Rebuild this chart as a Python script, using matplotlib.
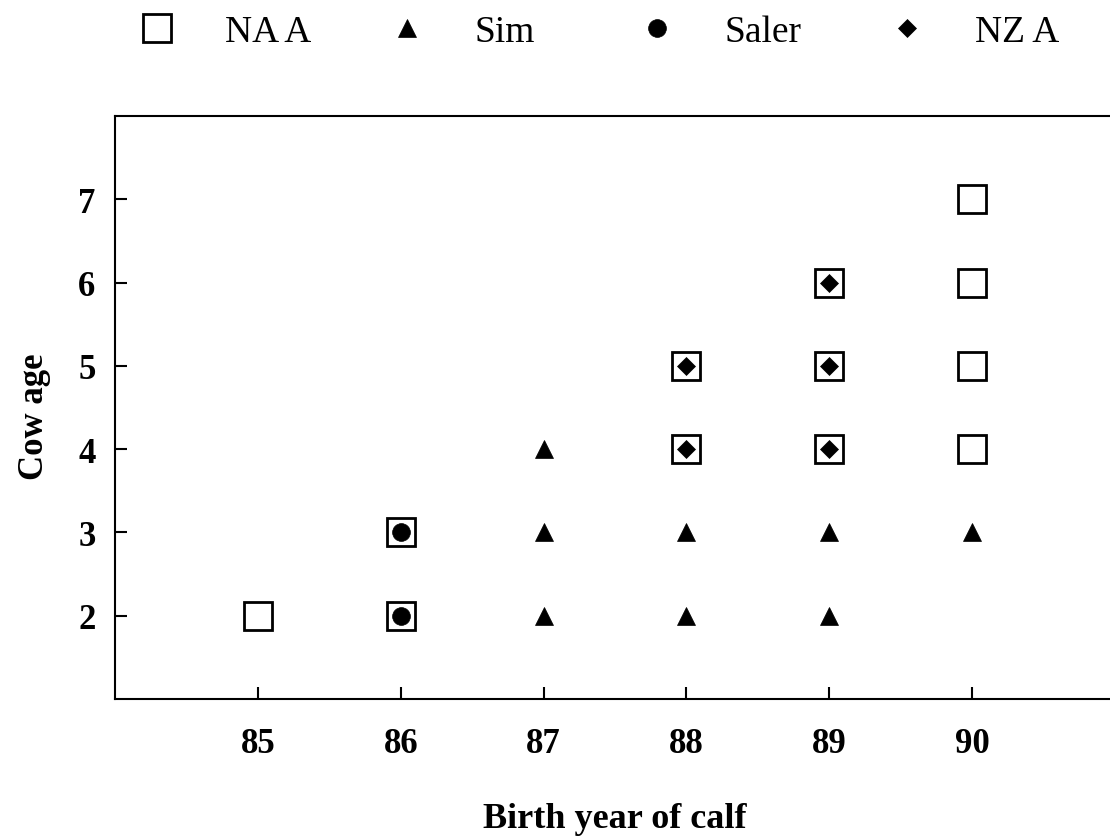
import matplotlib
matplotlib.use('Agg')
from matplotlib import pyplot as plt

plt.rcParams['font.family'] = ['Liberation Serif', 'DejaVu Serif']

# data: (birth year of calf, cow age) for each breed
na_a_year = [85, 86, 86, 88, 88, 89, 89, 89, 90, 90, 90, 90]
na_a_age = [2, 2, 3, 4, 5, 4, 5, 6, 4, 5, 6, 7]
sim_year = [87, 87, 87, 88, 88, 89, 89, 90]
sim_age = [2, 3, 4, 2, 3, 2, 3, 3]
saler_year = [86, 86]
saler_age = [2, 3]
nza_year = [88, 88, 89, 89, 89]
nza_age = [4, 5, 4, 5, 6]

labels = ['NA A', 'Sim', 'Saler', 'NZ A']
x_ticks = [85, 86, 87, 88, 89, 90]
y_ticks = [2, 3, 4, 5, 6, 7]

fig = plt.figure(figsize=(11.1, 8.37), dpi=100)
ax = fig.add_axes([115/1110, 1-700/837, 1000/1110, 583/837])

h1, = ax.plot(na_a_year, na_a_age, linestyle='none', marker='s', ms=19.7,
              mfc='white', mec='black', mew=2.0)
h2, = ax.plot(sim_year, sim_age, linestyle='none', marker='^', ms=13,
              mfc='black', mec='black', mew=0.5)
h3, = ax.plot(saler_year, saler_age, linestyle='none', marker='o', ms=12.8,
              mfc='black', mec='black', mew=0.5)
h4, = ax.plot(nza_year, nza_age, linestyle='none', marker='D', ms=9,
              mfc='black', mec='black', mew=0.5)

ax.set_xlim(84, 91)
ax.set_ylim(1, 8)
ax.set_xticks(x_ticks)
ax.set_yticks(y_ticks)
ax.tick_params(direction='in', length=8.5, width=1.5, labelsize=25, pad=14)
ax.tick_params(axis='x', pad=20)
for lab in ax.get_xticklabels() + ax.get_yticklabels():
    lab.set_fontweight('bold')
for sp in ax.spines.values():
    sp.set_linewidth(1.5)

ax.set_xlabel('Birth year of calf', fontsize=26, fontweight='bold')
ax.set_ylabel('Cow age', fontsize=25, fontweight='bold')
ax.xaxis.set_label_coords(0.5, -0.177)
ax.yaxis.set_label_coords(-0.064, 0.485)

# legend across the top, one entry every 250 px
handles = [h1, h2, h3, h4]
for i, (h, lab) in enumerate(zip(handles, labels)):
    fig.legend([h], [lab], loc='center left',
               bbox_to_anchor=((138 + i*250)/1110, 1-33/837),
               frameon=False, fontsize=27, handlelength=1.0,
               handletextpad=1.31, borderpad=0, borderaxespad=0)

fig.savefig('out.png', dpi=100)
